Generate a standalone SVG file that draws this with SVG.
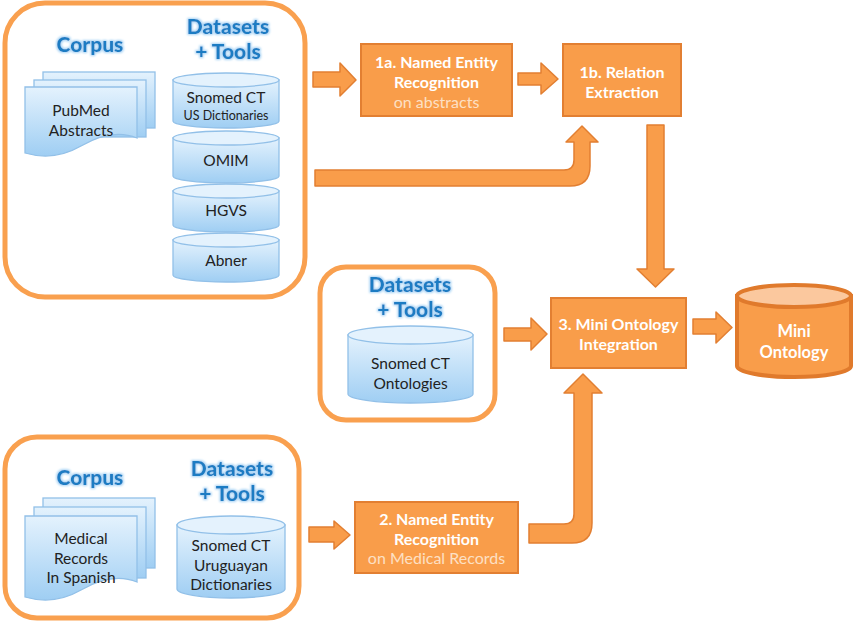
<svg xmlns="http://www.w3.org/2000/svg" width="855" height="624" viewBox="0 0 855 624">
<defs>
<linearGradient id="blue" x1="0" y1="0" x2="0" y2="1">
<stop offset="0" stop-color="#E4F2FD"/>
<stop offset="1" stop-color="#9FCEF3"/>
</linearGradient>
<filter id="glow" x="-20%" y="-30%" width="140%" height="160%">
<feMorphology in="SourceAlpha" operator="dilate" radius="1.2" result="d"/>
<feGaussianBlur in="d" stdDeviation="1.2" result="b"/>
<feFlood flood-color="#A9D4F5"/>
<feComposite in2="b" operator="in" result="g"/>
<feMerge><feMergeNode in="g"/><feMergeNode in="SourceGraphic"/></feMerge>
</filter>
</defs>
<style>
.frame{fill:#fff;stroke:#F9A04F;stroke-width:5}
.head{font-family:Lato,"Open Sans",sans-serif;font-weight:900;font-size:21px;fill:#1E7CC3;text-anchor:middle;filter:url(#glow)}
.blue{fill:url(#blue);stroke:#92C0E8;stroke-width:1.3}
.btop{fill:#E4F2FD;stroke:#92C0E8;stroke-width:1.3}
.bt{font-family:Lato,"Open Sans",sans-serif;font-size:15.5px;fill:#222;text-anchor:middle;dominant-baseline:central}
.small{font-size:12.5px}
.proc{fill:#F99D4A;stroke:#E27F32;stroke-width:2}
.pt{font-family:Lato,"Open Sans",sans-serif;font-size:16px;font-weight:bold;fill:#fff;text-anchor:middle;dominant-baseline:central}
.sub{font-weight:normal;fill:#FDE0C4}
.arr{fill:#F99D4A;stroke:#E27F32;stroke-width:1.5;stroke-linejoin:round}
</style>

<g id="group-top">
<rect class="frame" x="5" y="3" width="300" height="294" rx="40"/>
<text class="head" x="90" y="52">Corpus</text>
<text class="head" x="228" y="34">Datasets</text>
<text class="head" x="228" y="59">+ Tools</text>
</g>
<g id="pubmed">
<rect class="blue" x="43" y="72" width="112" height="56"/>
<rect class="blue" x="34" y="80" width="112" height="57"/>
<path class="blue" d="M25,87 H137 V138 C120,131 100,135 81,146 C62,157 42,158 25,153 Z"/>
<text class="bt" x="81" y="110">PubMed</text>
<text class="bt" x="81" y="130">Abstracts</text>
</g>
<g id="snomed-us">
<path class="blue" d="M173,80 V121 A53,7 0 0 0 279,121 V80 Z"/>
<ellipse class="btop" cx="226" cy="80" rx="53" ry="7"/>
<text class="bt" x="226" y="97">Snomed CT</text>
<text class="bt small" x="226" y="115">US Dictionaries</text>
</g>
<g id="omim">
<path class="blue" d="M173,138 V176 A53,7 0 0 0 279,176 V138 Z"/>
<ellipse class="btop" cx="226" cy="138" rx="53" ry="7"/>
<text class="bt" x="226" y="160">OMIM</text>
</g>
<g id="hgvs">
<path class="blue" d="M173,191 V225 A53,7 0 0 0 279,225 V191 Z"/>
<ellipse class="btop" cx="226" cy="191" rx="53" ry="7"/>
<text class="bt" x="226" y="210">HGVS</text>
</g>
<g id="abner">
<path class="blue" d="M173,240 V275 A53,7 0 0 0 279,275 V240 Z"/>
<ellipse class="btop" cx="226" cy="240" rx="53" ry="7"/>
<text class="bt" x="226" y="260">Abner</text>
</g>

<g id="ner-abstracts">
<rect class="proc" x="361" y="44" width="151" height="72"/>
<text class="pt" x="436.5" y="61">1a. Named Entity</text>
<text class="pt" x="436.5" y="81">Recognition</text>
<text class="pt sub" x="436.5" y="101">on abstracts</text>
</g>
<g id="relation-extraction">
<rect class="proc" x="563" y="44" width="118" height="72"/>
<text class="pt" x="622" y="71">1b. Relation</text>
<text class="pt" x="622" y="91">Extraction</text>
</g>

<g id="group-middle">
<rect class="frame" x="320" y="267" width="175" height="153" rx="26"/>
<text class="head" x="410" y="292">Datasets</text>
<text class="head" x="410" y="317">+ Tools</text>
</g>
<g id="snomed-ontologies">
<path class="blue" d="M348,335 V394 A62.5,9 0 0 0 473,394 V335 Z"/>
<ellipse class="btop" cx="410.5" cy="335" rx="62.5" ry="9"/>
<text class="bt" x="410.5" y="363">Snomed CT</text>
<text class="bt" x="410.5" y="383">Ontologies</text>
</g>

<g id="integration">
<rect class="proc" x="551" y="298" width="135" height="70"/>
<text class="pt" x="618.5" y="323">3. Mini Ontology</text>
<text class="pt" x="618.5" y="343">Integration</text>
</g>
<g id="mini-ontology">
<path d="M737,296 V366 A57,11 0 0 0 851,366 V296 Z" fill="#F99D4A" stroke="#E07A2C" stroke-width="4"/>
<ellipse cx="794" cy="296" rx="57" ry="11" fill="#FBC89E" stroke="#E07A2C" stroke-width="4"/>
<text class="pt" x="794" y="331" style="font-size:16.5px">Mini</text>
<text class="pt" x="794" y="352" style="font-size:16.5px">Ontology</text>
</g>

<g id="group-bottom">
<rect class="frame" x="5" y="437" width="294" height="181" rx="32"/>
<text class="head" x="90" y="485">Corpus</text>
<text class="head" x="232" y="476">Datasets</text>
<text class="head" x="232" y="501">+ Tools</text>
</g>
<g id="medical-records">
<rect class="blue" x="43" y="498" width="112" height="70"/>
<rect class="blue" x="34" y="507" width="112" height="71"/>
<path class="blue" d="M25,516 H137 V582 C120,575 100,579 81,590 C62,601 42,602 25,597 Z"/>
<text class="bt" x="81" y="538">Medical</text>
<text class="bt" x="81" y="558">Records</text>
<text class="bt" x="81" y="577">In Spanish</text>
</g>
<g id="snomed-uy">
<path class="blue" d="M177,525 V589 A54,9 0 0 0 285,589 V525 Z"/>
<ellipse class="btop" cx="231" cy="525" rx="54" ry="9"/>
<text class="bt" x="231" y="545">Snomed CT</text>
<text class="bt" x="231" y="565">Uruguayan</text>
<text class="bt" x="231" y="584">Dictionaries</text>
</g>
<g id="ner-records">
<rect class="proc" x="355" y="502" width="163" height="71"/>
<text class="pt" x="436.5" y="518">2. Named Entity</text>
<text class="pt" x="436.5" y="538">Recognition</text>
<text class="pt sub" x="436.5" y="557">on Medical Records</text>
</g>

<g id="connectors">
<path class="arr" d="M313,72 H340 V63 L356,80 L340,96 V87 H313 Z"/>
<path class="arr" d="M518,73 H541 V63 L558,79 L541,94 V85 H518 Z"/>
<path class="arr" d="M315,170 H564 Q574,170 574,160 V142 H566 L582,126 L598,142 H590 V166 Q590,186 570,186 H315 Z"/>
<path class="arr" d="M647,125 H664 V269 H674 L655.5,287 L637,269 H647 Z"/>
<path class="arr" d="M504,328 H531 V318 L547,334 L531,350 V341 H504 Z"/>
<path class="arr" d="M693,319 H716 V312 L732,327.5 L716,343 V334 H693 Z"/>
<path class="arr" d="M309,527 H334 V521 L350,535 L334,549 V542 H309 Z"/>
<path class="arr" d="M529,524 H564 Q574,524 574,514 V393 H564 L583,374 L602,393 H592 V523 Q592,543 572,543 H529 Z"/>
</g>
</svg>
